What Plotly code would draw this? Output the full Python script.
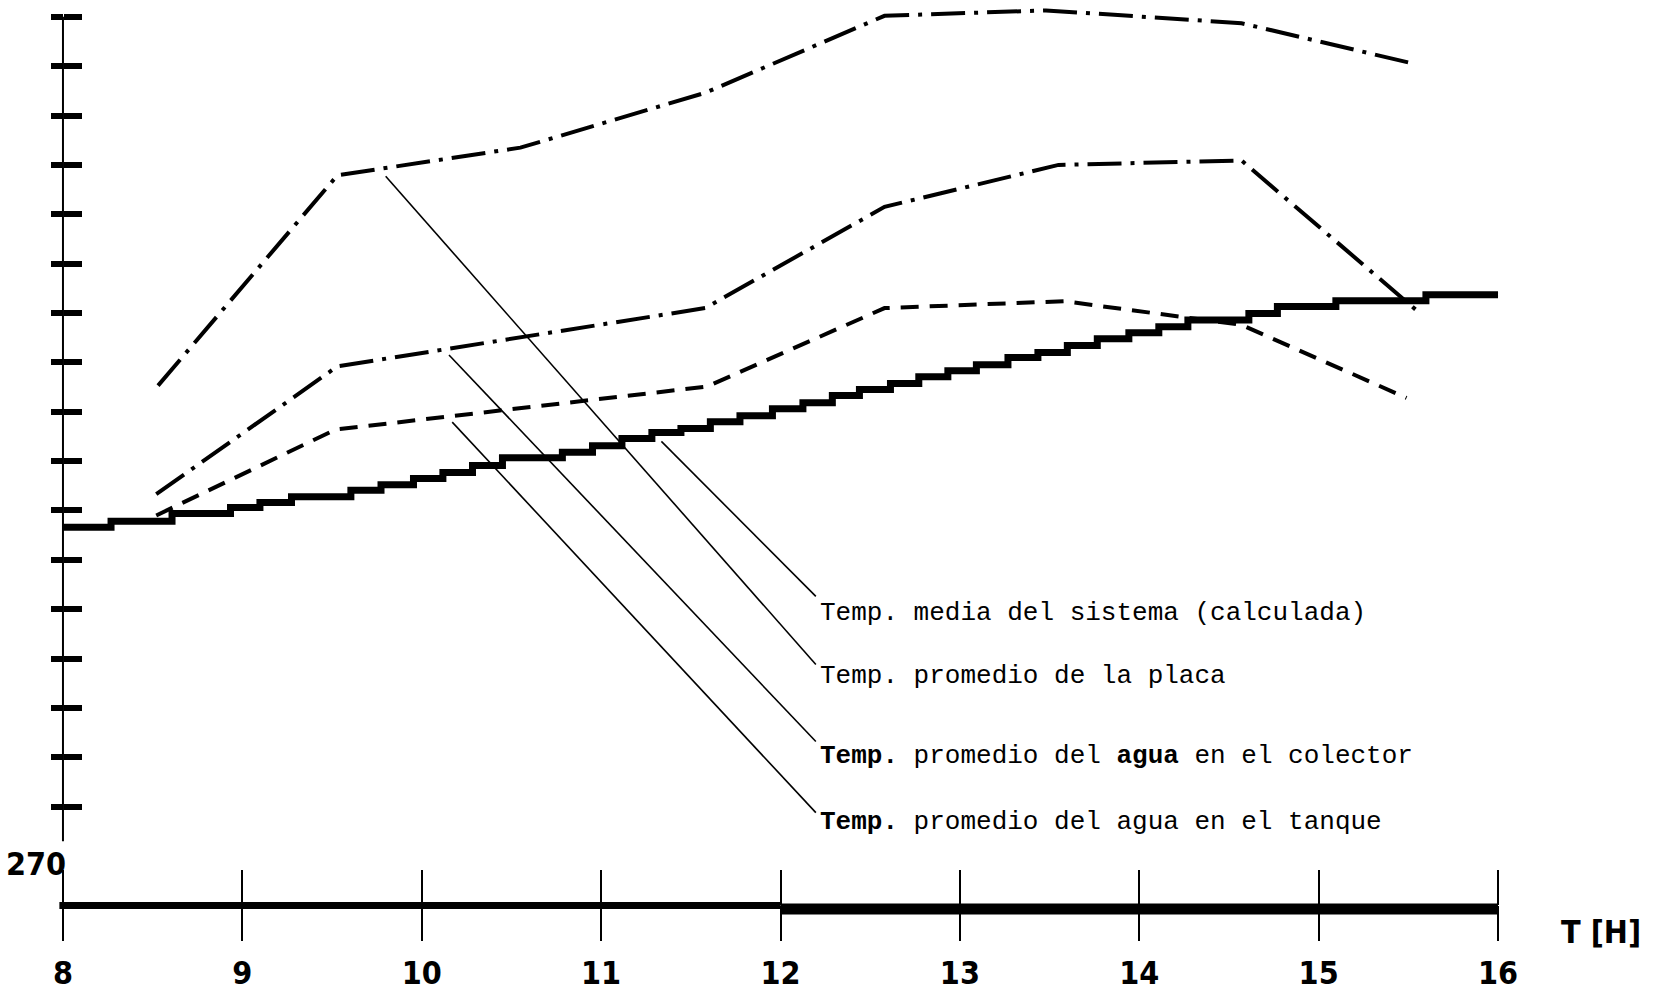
import plotly.graph_objects as go

# ---------------- data ----------------
# Temp. media del sistema (calculada) -- stepped curve (start of each step, last value repeated at end)
media_t = [8.000, 8.268, 8.608, 8.934, 9.098, 9.274, 9.605, 9.773, 9.954, 10.118,
           10.283, 10.450, 10.784, 10.952, 11.116, 11.283, 11.445, 11.609, 11.774, 11.955,
           12.125, 12.289, 12.440, 12.613, 12.771, 12.933, 13.092, 13.268, 13.435, 13.599,
           13.766, 13.942, 14.109, 14.271, 14.611, 14.770, 15.096, 15.598, 16.0]
media_T = [277.66, 277.78, 277.94, 278.06, 278.16, 278.28, 278.41, 278.52, 278.65, 278.77,
           278.91, 279.07, 279.18, 279.31, 279.46, 279.58, 279.66, 279.80, 279.92, 280.06,
           280.18, 280.33, 280.45, 280.57, 280.71, 280.83, 280.95, 281.10, 281.20, 281.34,
           281.48, 281.60, 281.72, 281.86, 281.99, 282.13, 282.25, 282.37, 282.37]

# Temp. promedio de la placa
placa_t = [8.53, 9.53, 10.55, 11.58, 12.58, 13.48, 14.57, 15.53]
placa_T = [280.53, 284.79, 285.35, 286.46, 288.02, 288.13, 287.87, 287.05]

# Temp. promedio del agua en el colector
colector_t = [8.52, 9.53, 11.58, 12.58, 13.55, 14.57, 15.56]
colector_T = [278.33, 280.92, 282.10, 284.15, 285.00, 285.09, 282.01]

# Temp. promedio del agua en el tanque
tanque_t = [8.52, 9.52, 11.59, 12.58, 13.58, 14.57, 15.49]
tanque_T = [277.90, 279.64, 280.51, 282.10, 282.24, 281.76, 280.28]

# labels and their leader lines (start on curve -> end at label)
label_texts = [
    "Temp. media del sistema (calculada)",
    "Temp. promedio de la placa",
    "<b>Temp.</b> promedio del <b>agua</b> en el colector",
    "<b>Temp.</b> promedio del agua en el tanque",
]
leader_t0 = [11.336, 9.799, 10.152, 10.170]
leader_T0 = [279.40, 284.77, 281.15, 279.79]
leader_t1 = [12.197, 12.197, 12.197, 12.197]
leader_T1 = [276.26, 274.88, 273.32, 271.88]
label_t = [12.21, 12.21, 12.21, 12.21]
label_T = [275.93, 274.64, 273.02, 271.70]

x_ticks = [8, 9, 10, 11, 12, 13, 14, 15, 16]
x_ticktext = ["8", "9", "10", "11", "12", "13", "14", "15", "16"]
y_ticks = list(range(272, 289))
y_base_label = "270"
x_title = "T [H]"

# ---------------- figure ----------------
X_RANGE = [7.95, 16.05]
Y_RANGE = [269.3, 288.3]
BIG_FONT = "Liberation Sans Narrow, DejaVu Sans Condensed, Arial Narrow, DejaVu Sans, sans-serif"
MONO = "Liberation Mono, Courier New, monospace"
BIG_SIZE = 32

fig = go.Figure()

fig.add_trace(go.Scatter(x=placa_t, y=placa_T, mode="lines",
                         line=dict(color="black", width=4, dash="34px,9px,4px,9px"),
                         showlegend=False, cliponaxis=False))
fig.add_trace(go.Scatter(x=colector_t, y=colector_T, mode="lines",
                         line=dict(color="black", width=4, dash="34px,9px,4px,9px"),
                         showlegend=False))
fig.add_trace(go.Scatter(x=tanque_t, y=tanque_T, mode="lines",
                         line=dict(color="black", width=4, dash="18px,11px"),
                         showlegend=False))
fig.add_trace(go.Scatter(x=media_t, y=media_T, mode="lines", line_shape="hv",
                         line=dict(color="black", width=7),
                         showlegend=False))

for i in range(len(label_texts)):
    fig.add_trace(go.Scatter(x=[leader_t0[i], leader_t1[i]], y=[leader_T0[i], leader_T1[i]],
                             mode="lines", line=dict(color="black", width=1.6),
                             showlegend=False))
    fig.add_annotation(x=label_t[i], y=label_T[i], xref="x", yref="y", text=label_texts[i],
                       showarrow=False, xanchor="left", yanchor="middle",
                       font=dict(family=MONO, size=26, color="black"))

# invisible trace to instantiate overlay axes
fig.add_trace(go.Scatter(x=[8], y=[270], xaxis="x2", yaxis="y2", mode="markers",
                         marker=dict(opacity=0), showlegend=False, hoverinfo="skip"))

x_pos = (270 - Y_RANGE[0]) / (Y_RANGE[1] - Y_RANGE[0])
y_pos = (8 - X_RANGE[0]) / (X_RANGE[1] - X_RANGE[0])

fig.update_layout(
    width=1657, height=997,
    margin=dict(l=54, r=150, t=2, b=57, autoexpand=False),
    paper_bgcolor="white", plot_bgcolor="white",
    xaxis=dict(range=X_RANGE, anchor="free", position=x_pos, tickmode="array",
               tickvals=x_ticks, ticks="inside", ticklen=35, tickwidth=2, tickcolor="black",
               showticklabels=False, showline=False, showgrid=False, zeroline=False,
               automargin=False),
    xaxis2=dict(range=X_RANGE, overlaying="x", anchor="free", position=x_pos, side="bottom",
                tickmode="array", tickvals=x_ticks, ticktext=x_ticktext,
                ticks="outside", ticklen=35, tickwidth=2, tickcolor="black",
                tickfont=dict(family=BIG_FONT, size=BIG_SIZE, color="black", weight=700),
                ticklabelstandoff=4, automargin=False,
                showline=False, showgrid=False, zeroline=False),
    yaxis=dict(range=Y_RANGE, anchor="free", position=y_pos, tickmode="array",
               tickvals=y_ticks, ticks="inside", ticklen=18, tickwidth=6, tickcolor="black",
               showticklabels=False, showline=False, showgrid=False, zeroline=False,
               automargin=False),
    yaxis2=dict(range=Y_RANGE, overlaying="y", anchor="free", position=y_pos, side="left",
                tickmode="array", tickvals=y_ticks, ticks="outside", ticklen=12,
                tickwidth=6, tickcolor="black", automargin=False,
                showticklabels=False, showline=False, showgrid=False, zeroline=False),
)

# axis lines
fig.add_shape(type="line", xref="x", yref="y", x0=8, x1=8, y0=271.3, y1=288,
              line=dict(color="black", width=2))
fig.add_shape(type="line", xref="x", yref="y", x0=7.98, x1=12, y0=270, y1=270,
              line=dict(color="black", width=7))
fig.add_shape(type="line", xref="x", yref="y", x0=12, x1=16, y0=269.93, y1=269.93,
              line=dict(color="black", width=11))

fig.add_annotation(x=8.03, y=270.83, xref="x", yref="y", text=y_base_label, showarrow=False,
                   xanchor="right", yanchor="middle",
                   font=dict(family=BIG_FONT, size=BIG_SIZE, color="black", weight=700))
fig.add_annotation(x=(16.574 - X_RANGE[0]) / (X_RANGE[1] - X_RANGE[0]),
                   y=(269.47 - Y_RANGE[0]) / (Y_RANGE[1] - Y_RANGE[0]),
                   xref="paper", yref="paper", text=x_title, showarrow=False,
                   xanchor="center", yanchor="middle",
                   font=dict(family=BIG_FONT, size=BIG_SIZE, color="black", weight=700))

fig.write_html("out.html")
